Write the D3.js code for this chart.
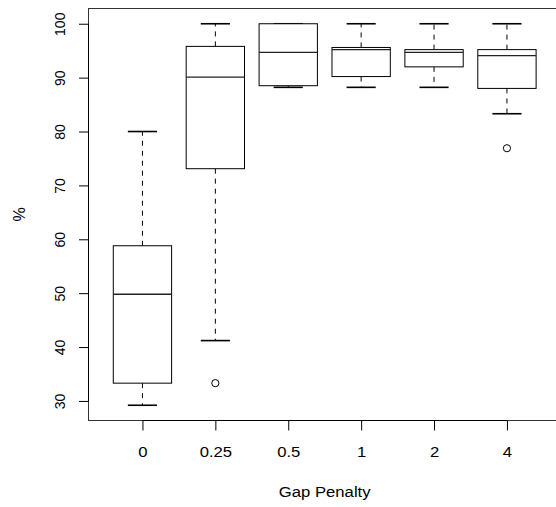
<!DOCTYPE html>
<html>
<head>
<meta charset="utf-8">
<script src="https://cdn.jsdelivr.net/npm/d3@7"></script>
<style>
  html, body { margin: 0; padding: 0; background: #fff; }
  svg text { font-family: "Liberation Sans", Arial, Helvetica, sans-serif; fill: #000; }
</style>
</head>
<body>
<svg id="chart" width="556" height="507"></svg>
<script>
const categories = ["0", "0.25", "0.5", "1", "2", "4"];
const lowerWhisker = [29.2, 41.2, 88.2, 88.2, 88.2, 83.3];
const q1 = [33.3, 73.1, 88.5, 90.2, 92.0, 88.0];
const median = [49.8, 90.1, 94.7, 95.2, 94.7, 94.1];
const q3 = [58.8, 95.8, 100, 95.6, 95.2, 95.2];
const upperWhisker = [80, 100, 100, 100, 100, 100];
const outliers = [[], [33.3], [], [], [], [76.9]];
const yTicks = [30, 40, 50, 60, 70, 80, 90, 100];
const xTitle = "Gap Penalty";
const yTitle = "%";

const svg = d3.select("#chart");
const plotLeft = 88.5, plotTop = 8.5, plotBottom = 420.5;
const unit = 72.9;
const x = d3.scaleLinear().domain([0.26, 6.74]).range([plotLeft, plotLeft + 6.48 * unit]);
const y = d3.scaleLinear().domain([26.37, 102.83]).range([plotBottom, plotTop]);

const boxHalf = 0.4, capHalf = 0.2;
const data = categories.map((c, i) => ({
  c, pos: i + 1, lw: lowerWhisker[i], q1: q1[i], med: median[i], q3: q3[i], uw: upperWhisker[i], out: outliers[i]
}));

const g = svg.append("g");
data.forEach(d => {
  const cx = x(d.pos);
  g.append("line").attr("x1", cx).attr("x2", cx).attr("y1", y(d.q3)).attr("y2", y(d.uw))
    .attr("stroke", "#000").attr("stroke-width", 1).attr("stroke-dasharray", "5,5");
  g.append("line").attr("x1", cx).attr("x2", cx).attr("y1", y(d.q1)).attr("y2", y(d.lw))
    .attr("stroke", "#000").attr("stroke-width", 1).attr("stroke-dasharray", "5,5");
  [d.uw, d.lw].forEach(v => {
    g.append("line").attr("x1", x(d.pos - capHalf)).attr("x2", x(d.pos + capHalf))
      .attr("y1", y(v)).attr("y2", y(v)).attr("stroke", "#000").attr("stroke-width", 1.6);
  });
  g.append("rect").attr("x", x(d.pos - boxHalf)).attr("y", y(d.q3))
    .attr("width", x(d.pos + boxHalf) - x(d.pos - boxHalf)).attr("height", y(d.q1) - y(d.q3))
    .attr("fill", "#fff").attr("stroke", "#000").attr("stroke-width", 1);
  g.append("line").attr("x1", x(d.pos - boxHalf)).attr("x2", x(d.pos + boxHalf))
    .attr("y1", y(d.med)).attr("y2", y(d.med)).attr("stroke", "#222").attr("stroke-width", 1.3);
  d.out.forEach(v => {
    g.append("circle").attr("cx", cx).attr("cy", y(v)).attr("r", 3.6)
      .attr("fill", "none").attr("stroke", "#000").attr("stroke-width", 1);
  });
});

svg.append("rect").attr("x", plotLeft).attr("y", plotTop)
  .attr("width", x.range()[1] - plotLeft + 5).attr("height", plotBottom - plotTop)
  .attr("fill", "none").attr("stroke", "#333").attr("stroke-width", 1);

const yAxis = svg.append("g").attr("transform", `translate(${plotLeft},0)`)
  .call(d3.axisLeft(y).tickValues(yTicks).tickSize(9.5).tickFormat(d3.format("d")));
yAxis.select(".domain").attr("d", `M-0,${y(30)}V${y(100)}`).attr("stroke", "#000");
yAxis.selectAll(".tick line").attr("stroke", "#000");
yAxis.selectAll(".tick text")
  .attr("x", null).attr("dy", null)
  .attr("transform", "translate(-23.5,0) rotate(-90)")
  .attr("text-anchor", "middle").attr("y", 0)
  .style("font-size", "14px").style("font-family", "Liberation Sans, Arial, sans-serif");

const xAxis = svg.append("g").attr("transform", `translate(0,${plotBottom})`)
  .call(d3.axisBottom(x).tickValues(data.map(d => d.pos)).tickSize(10)
    .tickFormat((v, i) => categories[i]));
xAxis.select(".domain").attr("d", `M${x(1)},0H${x(6)}`).attr("stroke", "#000");
xAxis.selectAll(".tick line").attr("stroke", "#000");
xAxis.selectAll(".tick text")
  .attr("y", null).attr("dy", null)
  .attr("transform", "translate(0,36) scale(1.15,1)")
  .style("font-size", "14.5px").style("font-family", "Liberation Sans, Arial, sans-serif");

svg.append("text").attr("transform", `translate(${x(3.5)},496.5) scale(1.15,1)`)
  .attr("text-anchor", "middle").style("font-size", "14.5px").text(xTitle);
svg.append("text").attr("transform", `translate(25,${(plotTop + plotBottom) / 2}) rotate(-90)`)
  .attr("text-anchor", "middle").style("font-size", "16px").text(yTitle);
</script>
</body>
</html>
